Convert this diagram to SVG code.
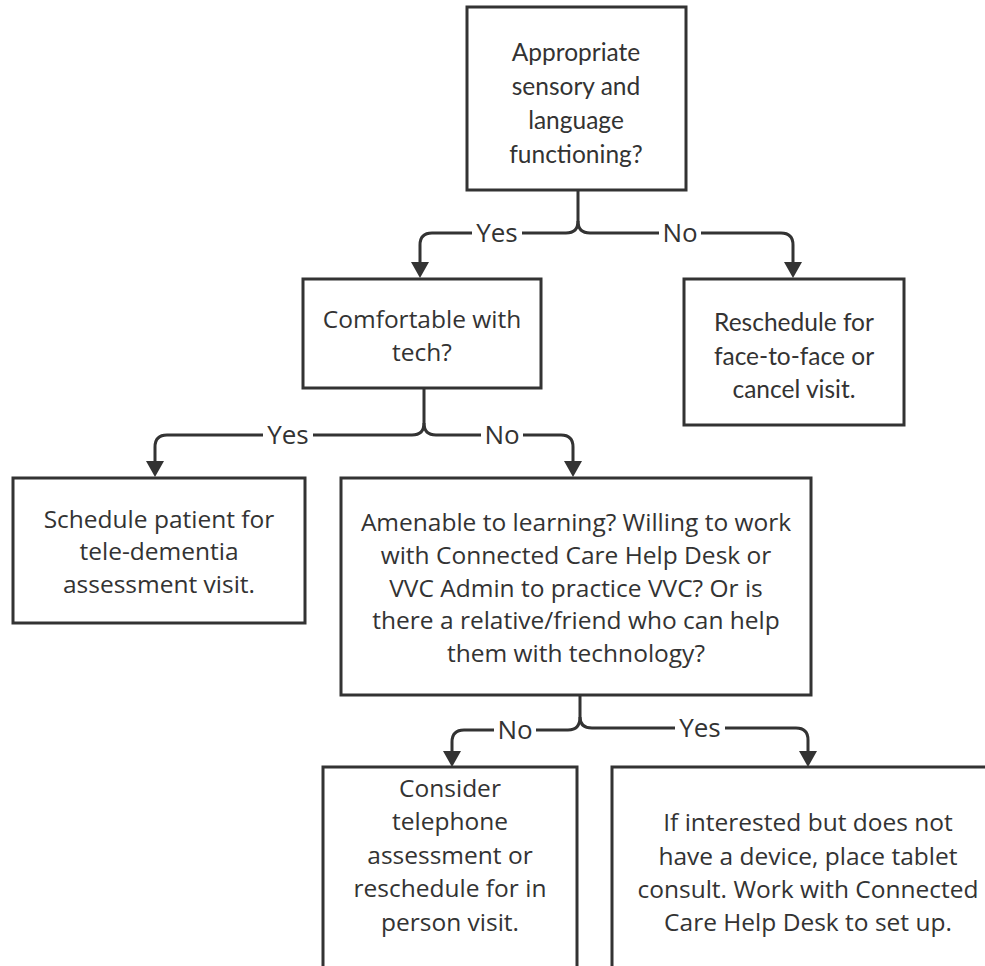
<svg xmlns="http://www.w3.org/2000/svg" width="985" height="966" viewBox="0 0 985 966">
<defs>
<marker id="arr" markerUnits="userSpaceOnUse" markerWidth="20" markerHeight="20" viewBox="0 -10 20 20" refX="5" refY="0" orient="auto">
<path d="M0,-9 L16,0 L0,9 z" fill="#333"/>
</marker>
<style>
.box{fill:#fff;stroke:#333;stroke-width:3}
.t{font-family:"Open Sans","Noto Sans",sans-serif;font-size:24.5px;fill:#333;text-anchor:middle}
.l{font-family:Lato,"Open Sans",sans-serif;font-size:24.5px;fill:#333;text-anchor:middle}
.c{fill:none;stroke:#333;stroke-width:3}
.lbl{font-family:"Open Sans","Noto Sans",sans-serif;font-size:26px;fill:#333;text-anchor:middle}
.bg{fill:#fff}
</style>
</defs>
<rect width="985" height="966" fill="#fff"/>
<g id="connectors">
<path class="c" d="M578,190 V221 Q578,233 566,233 H432 Q420,233 420,245 V267" marker-end="url(#arr)"/>
<path class="c" d="M578,221 Q578,233 590,233 H781 Q793,233 793,245 V267" marker-end="url(#arr)"/>
<path class="c" d="M424,388 V423 Q424,435 412,435 H167 Q155,435 155,447 V466" marker-end="url(#arr)"/>
<path class="c" d="M424,423 Q424,435 436,435 H561 Q573,435 573,447 V466" marker-end="url(#arr)"/>
<path class="c" d="M580,695 V717 Q580,730 568,730 H464 Q452,730 452,742 V756" marker-end="url(#arr)"/>
<path class="c" d="M580,717 Q580,728 592,728 H796 Q808,728 808,740 V756" marker-end="url(#arr)"/>
<rect class="bg" x="472" y="219" width="50" height="28"/>
<text class="lbl" x="497" y="242">Yes</text>
<rect class="bg" x="659" y="219" width="42" height="28"/>
<text class="lbl" x="680" y="242">No</text>
<rect class="bg" x="263" y="421" width="50" height="28"/>
<text class="lbl" x="288" y="444">Yes</text>
<rect class="bg" x="481" y="421" width="42" height="28"/>
<text class="lbl" x="502" y="444">No</text>
<rect class="bg" x="494" y="716" width="42" height="28"/>
<text class="lbl" x="515" y="739">No</text>
<rect class="bg" x="675" y="714" width="50" height="28"/>
<text class="lbl" x="700" y="737">Yes</text>
</g>
<g id="n1">
<rect class="box" x="467" y="7" width="219" height="183"/>
<text class="l" x="576"><tspan x="576" y="61">Appropriate</tspan><tspan x="576" y="95">sensory and</tspan><tspan x="576" y="129">language</tspan><tspan x="576" y="163">functioning?</tspan></text>
</g>
<g id="n2">
<rect class="box" x="303" y="279" width="238" height="109"/>
<text class="t" x="422"><tspan x="422" y="328">Comfortable with</tspan><tspan x="422" y="361">tech?</tspan></text>
</g>
<g id="n3">
<rect class="box" x="684" y="279" width="220" height="146"/>
<text class="l" x="794"><tspan x="794" y="331">Reschedule for</tspan><tspan x="794" y="365">face-to-face or</tspan><tspan x="794" y="398">cancel visit.</tspan></text>
</g>
<g id="n4">
<rect class="box" x="13" y="478" width="292" height="145"/>
<text class="t" x="159"><tspan x="159" y="528">Schedule patient for</tspan><tspan x="159" y="560">tele-dementia</tspan><tspan x="159" y="593">assessment visit.</tspan></text>
</g>
<g id="n5">
<rect class="box" x="341" y="478" width="470" height="217"/>
<text class="t" x="576"><tspan x="576" y="531">Amenable to learning? Willing to work</tspan><tspan x="576" y="564">with Connected Care Help Desk or</tspan><tspan x="576" y="597">VVC Admin to practice VVC? Or is</tspan><tspan x="576" y="629">there a relative/friend who can help</tspan><tspan x="576" y="662">them with technology?</tspan></text>
</g>
<g id="n6">
<rect class="box" x="323" y="767" width="254" height="210"/>
<text class="t" x="450"><tspan x="450" y="797">Consider</tspan><tspan x="450" y="830">telephone</tspan><tspan x="450" y="864">assessment or</tspan><tspan x="450" y="897">reschedule for in</tspan><tspan x="450" y="931">person visit.</tspan></text>
</g>
<g id="n7">
<rect class="box" x="612" y="767" width="400" height="210"/>
<text class="t" x="808"><tspan x="808" y="831">If interested but does not</tspan><tspan x="808" y="865">have a device, place tablet</tspan><tspan x="808" y="898">consult. Work with Connected</tspan><tspan x="808" y="931">Care Help Desk to set up.</tspan></text>
</g>
</svg>
